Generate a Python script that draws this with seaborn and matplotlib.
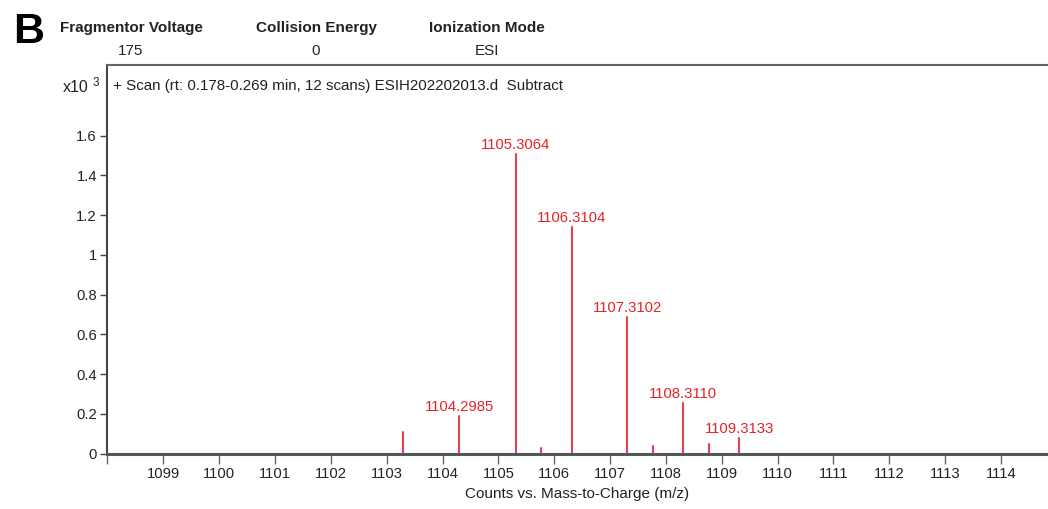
import matplotlib
matplotlib.use("Agg")
import matplotlib.pyplot as plt
from matplotlib import font_manager
import seaborn as sns
import pandas as pd

# ---- data ----
mz_values = [1103.29, 1104.2985, 1105.3064, 1105.77, 1106.3104, 1107.3102, 1107.77, 1108.3110, 1108.77, 1109.3133]
intensities = [0.110, 0.190, 1.510, 0.026, 1.141, 0.685, 0.038, 0.253, 0.048, 0.079]
labeled = [False, True, True, False, True, True, False, True, False, True]
peak_labels = ["", "1104.2985", "1105.3064", "", "1106.3104", "1107.3102", "", "1108.3110", "", "1109.3133"]
x_ticks = list(range(1098, 1115))
x_tick_labels = [""] + [str(t) for t in range(1099, 1115)]
y_ticks = [0, 0.2, 0.4, 0.6, 0.8, 1.0, 1.2, 1.4, 1.6]
header_titles = ["Fragmentor Voltage", "Collision Energy", "Ionization Mode"]
header_values = ["175", "0", "ESI"]
scan_text = "+ Scan (rt: 0.178-0.269 min, 12 scans) ESIH202202013.d  Subtract"
x_label = "Counts vs. Mass-to-Charge (m/z)"

sns.set_style("white")
names = {f.name for f in font_manager.fontManager.ttflist}
base_font = "Liberation Sans" if "Liberation Sans" in names else "DejaVu Sans"
plt.rcParams["font.family"] = [base_font, "DejaVu Sans"]

W, H = 1048, 509
fig = plt.figure(figsize=(W / 100, H / 100), dpi=100)
fig.patch.set_facecolor("white")

ax_left, ax_right, ax_top, ax_bottom = 106.7, 1048, 65, 453.5
ax = fig.add_axes([ax_left / W, (H - ax_bottom) / H, (ax_right - ax_left) / W, (ax_bottom - ax_top) / H])

# stems as long-form data drawn via seaborn
rows = []
for i, (m, h) in enumerate(zip(mz_values, intensities)):
    rows.append({"mz": m, "counts": 0.0, "peak": i})
    rows.append({"mz": m, "counts": h, "peak": i})
df = pd.DataFrame(rows)
sns.lineplot(data=df, x="mz", y="counts", units="peak", estimator=None, sort=False,
             color="#e0454b", linewidth=1.5, ax=ax, legend=False)

for m, h, lab, show in zip(mz_values, intensities, peak_labels, labeled):
    if show:
        ax.annotate(lab, xy=(m, h), xytext=(0, 2), textcoords="offset pixels",
                    ha="center", va="bottom", color="#e5232b", fontsize=10.7)

# x scale: 1099 at px 163.3, 55.85 px per unit
px_per = 55.85
x0 = 1099 - (163.3 - ax_left) / px_per
x1 = 1099 + (ax_right - 163.3) / px_per
ax.set_xlim(x0, x1)
y_px = 198.6
ax.set_ylim(0, (ax_bottom - ax_top) / y_px)

ax.set_xticks(x_ticks)
ax.set_xticklabels(x_tick_labels)
ax.set_yticks(y_ticks)
ax.set_yticklabels([f"{v:g}" for v in y_ticks])
ax.tick_params(axis="x", direction="out", length=7, width=1, color="#666", pad=3,
               labelsize=10.6, labelcolor="#222", bottom=True)
ax.tick_params(axis="y", direction="out", length=5, width=1, color="#444", pad=2,
               labelsize=10.6, labelcolor="#222", left=True)
ax.set_xlabel(x_label, fontsize=11, color="#222", labelpad=4)
ax.set_ylabel("")

for s in ["left", "top", "bottom"]:
    ax.spines[s].set_visible(True)
ax.spines["right"].set_visible(False)
ax.spines["left"].set_linewidth(1.5)
ax.spines["left"].set_color("#444")
ax.spines["top"].set_linewidth(1.5)
ax.spines["top"].set_color("#666")
ax.spines["bottom"].set_linewidth(2.2)
ax.spines["bottom"].set_color("#555")

ax.text((113 - ax_left) / (ax_right - ax_left), (ax_bottom - 86) / (ax_bottom - ax_top), scan_text,
        transform=ax.transAxes, ha="left", va="center", fontsize=10.9, color="#222")

# multiplier
fig.text(63 / W, (H - 92) / H, "x10", ha="left", va="baseline", fontsize=11.5, color="#222")
fig.text(93 / W, (H - 86) / H, "3", ha="left", va="baseline", fontsize=8.5, color="#222")

# header
fig.text(13 / W, (H - 43) / H, "B", ha="left", va="baseline", fontsize=31, fontweight="bold", color="black")
title_centers = [131, 316, 487]
for cx, t, v in zip(title_centers, header_titles, header_values):
    fig.text(cx / W, (H - 32) / H, t, ha="center", va="baseline", fontsize=11,
             fontweight="bold", color="#222")
    fig.text(cx / W, (H - 55) / H, v, ha="center", va="baseline", fontsize=11,
             color="#222")

fig.savefig("out.png", dpi=100, facecolor="white")
